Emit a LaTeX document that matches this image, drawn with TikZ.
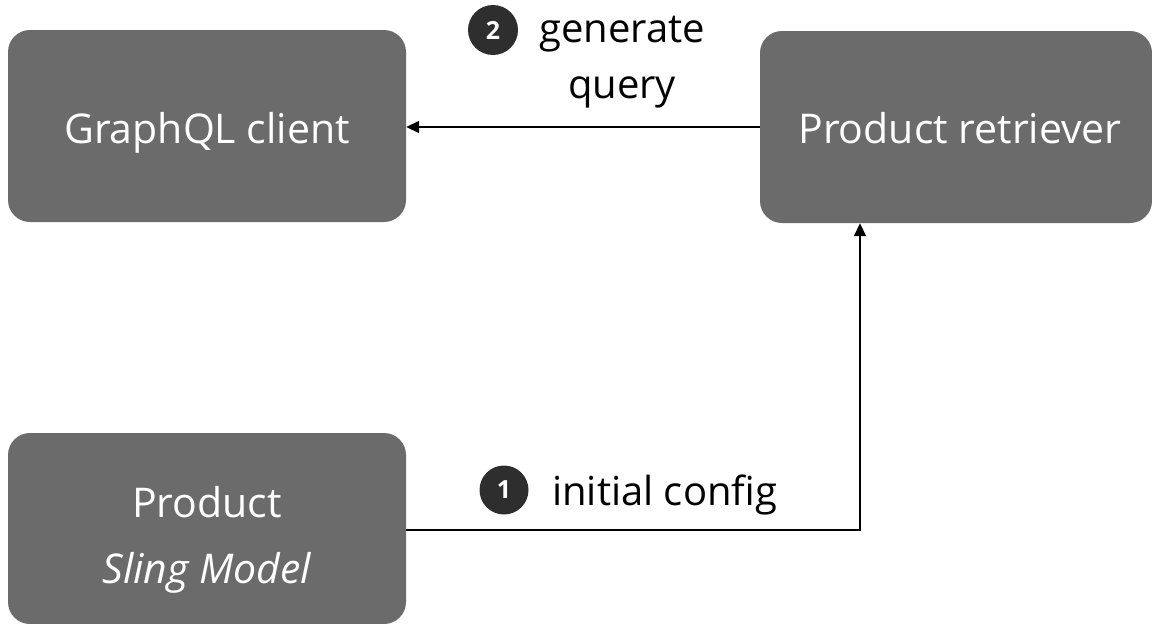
\documentclass[tikz,border=0pt]{standalone}
\usepackage{fontspec}
\setmainfont{Open Sans}
\usetikzlibrary{arrows.meta}
\definecolor{boxgray}{HTML}{6B6B6B}
\definecolor{numdark}{HTML}{2E2E2E}
\begin{document}
\begin{tikzpicture}[x=1pt,y=-1pt,
  blk/.style={draw=none,fill=boxgray,rounded corners=22pt,minimum width=398pt,minimum height=192pt,inner sep=0pt},
  blktxt/.style={text=white,font=\fontsize{41}{66}\selectfont,inner sep=0pt,anchor=base},
  num/.style={circle,fill=numdark,text=white,minimum size=50pt,inner sep=0pt,font=\fontsize{25}{28}\selectfont\bfseries},
  lbl/.style={text=black,font=\fontsize{40}{56}\selectfont,inner sep=0pt},
  conn/.style={line width=1.8pt,-{Triangle[length=13pt,width=12pt]}}]
\useasboundingbox (0,0) rectangle (1152,624);
\node[blk] (gql) at (207,126) {};
\node[blk,minimum width=392pt] (ret) at (956,127) {};
\node[blk,minimum height=191pt] (prod) at (207,528.5) {};
\node[blktxt] (gqlt) at (207,143) {GraphQL client};
\node[blktxt] (rett) at (960,143) {Product retriever};
\node[blktxt] (prodt1) at (207,517) {Product};
\node[blktxt] (prodt2) at (207,583) {\itshape Sling Model};
\coordinate (corner) at (860,530);
\draw[conn] (ret.west |- 0,127) -- (gql.east |- 0,127);
\draw[conn] (prod.east |- 0,530) -- (corner) -- (corner |- ret.south);
\node[num] (n2) at (493,30) {2};
\node[lbl,anchor=base] (gen) at (622,42) {generate};
\node[lbl,anchor=base] (qry) at (622,98) {query};
\node[num,minimum size=49pt] (n1) at (504,490) {1};
\node[lbl,anchor=base west] (init) at (552,505) {initial config};
\end{tikzpicture}
\end{document}
